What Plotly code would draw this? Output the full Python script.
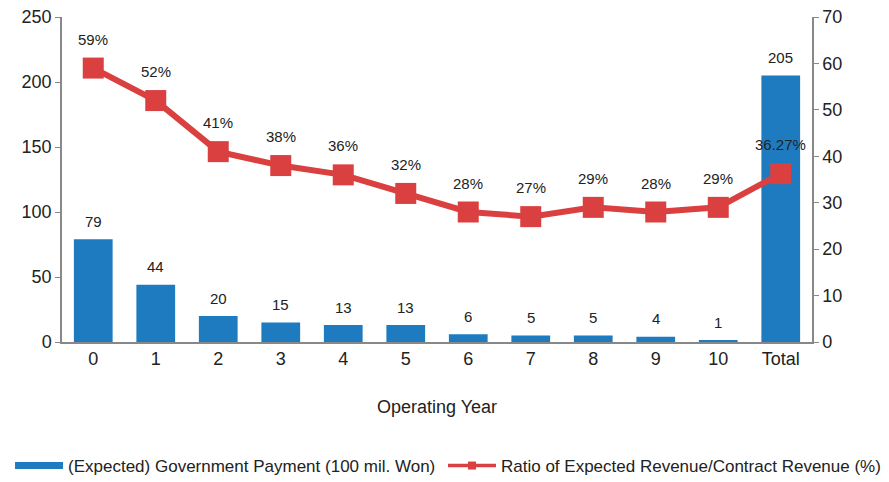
import plotly.graph_objects as go

categories = ["0", "1", "2", "3", "4", "5", "6", "7", "8", "9", "10", "Total"]
payment = [79, 44, 20, 15, 13, 13, 6, 5, 5, 4, 1, 205]
ratio = [59, 52, 41, 38, 36, 32, 28, 27, 29, 28, 29, 36.27]
ratio_labels = ["59%", "52%", "41%", "38%", "36%", "32%", "28%", "27%", "29%", "28%", "29%", "36.27%"]

BLUE = "#1f7bbf"
RED = "#d9403f"
TXT = "#222"
FONT = "Liberation Sans, Arial, sans-serif"
BAR_NAME = "(Expected) Government Payment (100 mil. Won)"
LINE_NAME = "Ratio of Expected Revenue/Contract Revenue (%)"

fig = go.Figure()
fig.add_trace(go.Bar(
    x=categories, y=payment, name=BAR_NAME, showlegend=False,
    marker=dict(color=BLUE, line=dict(width=0)), yaxis="y",
))
fig.add_trace(go.Scatter(
    x=categories, y=ratio, name=LINE_NAME, showlegend=False,
    mode="lines+markers",
    line=dict(color=RED, width=6), marker=dict(symbol="square", size=21, color=RED),
    yaxis="y2", cliponaxis=False,
))
# legend-only entries drawn like the reference's legend keys
fig.add_trace(go.Scatter(
    x=[None], y=[None], name=BAR_NAME, mode="lines",
    line=dict(color=BLUE, width=7), yaxis="y", legend="legend",
))
fig.add_trace(go.Scatter(
    x=[None], y=[None], name=LINE_NAME, mode="lines+markers",
    line=dict(color=RED, width=3.5), marker=dict(symbol="square", size=8, color=RED),
    yaxis="y2", legend="legend2",
))

for c, v in zip(categories, payment):
    fig.add_annotation(x=c, y=v, text=str(v), showarrow=False, xref="x", yref="y",
                       yanchor="middle", yshift=18,
                       font=dict(size=15, color=TXT, family=FONT))
for c, v, t in zip(categories, ratio, ratio_labels):
    fig.add_annotation(x=c, y=v, text=t, showarrow=False, xref="x", yref="y2",
                       yanchor="middle", yshift=29,
                       font=dict(size=15, color=TXT, family=FONT))

fig.add_annotation(x=0.5, y=-0.2, xref="paper", yref="paper", text="Operating Year",
                   showarrow=False, xanchor="center", yanchor="middle",
                   font=dict(size=18, color=TXT, family=FONT))

legend_common = dict(orientation="h", yanchor="middle", y=-0.3815,
                     font=dict(size=17, color=TXT), itemwidth=48,
                     bgcolor="rgba(0,0,0,0)")

fig.update_layout(
    width=881, height=474,
    margin=dict(l=54, r=77, t=9, b=140, autoexpand=False),
    paper_bgcolor="white", plot_bgcolor="white",
    font=dict(family=FONT, color=TXT),
    bargap=0.38,
    showlegend=True,
    legend=dict(x=-0.0693, xanchor="left", **legend_common),
    legend2=dict(x=0.508, xanchor="left", **legend_common),
    xaxis=dict(
        type="category", range=[-0.5, len(categories) - 0.5],
        showline=True, linecolor="#888", linewidth=1.5,
        ticks="", tickfont=dict(size=18, color=TXT), automargin=False,
        showgrid=False, ticklabeloverflow="allow",
    ),
    yaxis=dict(
        range=[0, 250], dtick=50, showline=True, linecolor="#888", linewidth=1.5,
        ticks="outside", ticklen=5, tickcolor="#888", tickfont=dict(size=18, color=TXT),
        showgrid=False, zeroline=False, automargin=False, ticklabeloverflow="allow",
    ),
    yaxis2=dict(
        range=[0, 70], dtick=10, overlaying="y", side="right",
        showline=True, linecolor="#888", linewidth=1.5,
        ticks="outside", ticklen=5, tickcolor="#888", tickfont=dict(size=18, color=TXT),
        showgrid=False, zeroline=False, automargin=False, ticklabeloverflow="allow",
    ),
)

fig.write_html("out.html")
